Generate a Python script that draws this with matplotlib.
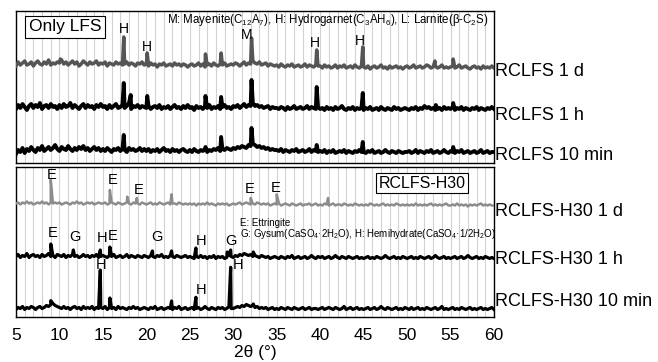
import numpy as np
import matplotlib
matplotlib.use("Agg")
import matplotlib.pyplot as plt

plt.rcParams['font.family'] = ['Liberation Sans', 'DejaVu Sans']
plt.rcParams['mathtext.default'] = 'regular'

# ---------------- data ----------------
two_theta = np.arange(5.0, 60.001, 0.25)   # sampling grid of the baseline values

# Only LFS (RCLFS)
lfs_1d_base = [10, 14, 11, 13, 15, 11, 12, 14, 10, 13, 15, 12, 11, 14, 12, 16, 11, 13, 12, 14,
               13, 16, 12, 14, 11, 13, 15, 12, 14, 10, 12, 15, 13, 11, 14, 12, 13, 15, 11, 13,
               12, 14, 10, 13, 12, 11, 14, 12, 13, 11, 12, 14, 11, 13, 12, 10, 13, 12, 14, 11,
               12, 10, 13, 11, 12, 9, 12, 11, 13, 10, 11, 12, 10, 13, 11, 12, 10, 12, 11, 9,
               11, 12, 10, 11, 13, 10, 12, 9, 11, 12, 10, 13, 11, 10, 12, 11, 13, 10, 11, 12,
               11, 13, 12, 10, 12, 14, 11, 13, 12, 15, 13, 12, 14, 11, 12, 13, 10, 12, 11, 10,
               11, 9, 12, 10, 9, 11, 10, 12, 9, 10, 11, 9, 10, 12, 9, 11, 10, 9, 11, 10,
               10, 8, 11, 9, 10, 8, 9, 11, 8, 10, 9, 11, 8, 9, 10, 8, 11, 9, 8, 10,
               9, 8, 10, 7, 9, 10, 8, 9, 11, 8, 9, 7, 10, 8, 9, 10, 8, 9, 7, 9,
               10, 8, 9, 11, 8, 9, 10, 8, 9, 11, 10, 8, 9, 10, 8, 9, 11, 8, 9, 8,
               9, 10, 8, 9, 11, 8, 9, 10, 8, 7, 9, 10, 8, 9, 7, 10, 8, 9, 8, 10,
               8]
lfs_1d_peak_x = [10.1, 17.4, 20.1, 26.8, 28.6, 32.1, 39.6, 44.9, 53.2, 55.3]
lfs_1d_peak_y = [17, 39, 23, 22, 23, 38, 26, 29, 15, 17]

lfs_1h_base = [9, 13, 10, 14, 11, 8, 12, 14, 10, 13, 11, 15, 9, 12, 13, 10, 14, 11, 12, 9,
               13, 10, 14, 11, 12, 15, 10, 13, 11, 9, 12, 14, 10, 13, 11, 12, 9, 13, 11, 14,
               11, 12, 9, 13, 10, 12, 14, 10, 11, 13, 10, 12, 15, 9, 12, 11, 13, 10, 12, 11,
               10, 12, 9, 11, 12, 10, 13, 9, 11, 10, 12, 9, 11, 13, 10, 11, 9, 12, 10, 13,
               10, 11, 8, 12, 10, 11, 9, 12, 10, 13, 9, 11, 10, 12, 9, 11, 13, 10, 11, 9,
               12, 11, 13, 10, 12, 14, 11, 13, 12, 15, 12, 13, 11, 12, 10, 11, 12, 9, 11, 10,
               10, 9, 11, 10, 8, 11, 9, 10, 12, 9, 10, 11, 9, 10, 12, 9, 11, 10, 9, 11,
               9, 10, 8, 11, 9, 10, 8, 11, 9, 10, 12, 9, 8, 10, 9, 11, 8, 10, 9, 10,
               8, 10, 9, 11, 8, 9, 10, 8, 11, 9, 8, 10, 9, 8, 11, 9, 10, 8, 9, 10,
               9, 8, 10, 9, 11, 8, 10, 9, 12, 10, 11, 9, 10, 8, 9, 10, 8, 11, 9, 10,
               9, 11, 8, 10, 9, 11, 8, 10, 9, 8, 10, 9, 11, 8, 10, 9, 8, 10, 9, 11,
               9]
lfs_1h_peak_x = [17.4, 18.2, 20.1, 26.8, 28.6, 32.1, 39.6, 44.9, 53.3, 55.3]
lfs_1h_peak_y = [35, 23, 22, 22, 21, 38, 31, 25, 13, 15]

lfs_10m_base = [8, 12, 10, 14, 9, 13, 11, 15, 12, 10, 14, 12, 16, 11, 13, 15, 12, 14, 17, 13,
                11, 15, 13, 12, 16, 13, 11, 14, 12, 15, 13, 16, 12, 14, 11, 13, 15, 12, 14, 11,
                13, 11, 14, 12, 10, 13, 12, 14, 11, 13, 12, 10, 14, 12, 13, 11, 12, 14, 11, 13,
                11, 13, 10, 12, 11, 13, 10, 12, 14, 11, 12, 10, 13, 11, 12, 10, 12, 13, 11, 10,
                12, 10, 13, 11, 10, 12, 11, 13, 10, 12, 11, 13, 12, 14, 11, 13, 12, 14, 13, 12,
                14, 13, 15, 14, 16, 15, 14, 17, 16, 18, 17, 15, 16, 14, 15, 13, 14, 12, 13, 12,
                12, 11, 13, 10, 12, 11, 10, 12, 11, 13, 10, 11, 12, 10, 11, 13, 10, 12, 11, 10,
                11, 10, 12, 9, 11, 10, 12, 9, 10, 11, 10, 12, 9, 11, 10, 9, 11, 10, 12, 10,
                10, 9, 11, 10, 12, 9, 10, 11, 9, 10, 12, 10, 9, 11, 10, 9, 11, 10, 9, 10,
                10, 11, 9, 10, 12, 9, 11, 10, 9, 11, 10, 12, 9, 10, 11, 9, 10, 12, 10, 9,
                11, 10, 9, 11, 10, 12, 9, 10, 11, 9, 10, 11, 9, 10, 12, 9, 10, 11, 9, 10,
                10]
lfs_10m_peak_x = [17.4, 26.8, 28.6, 32.1, 39.6, 44.9, 55.3]
lfs_10m_peak_y = [27, 15, 25, 34, 17, 20, 15]

# RCLFS-H30
h30_1d_base = [8, 9, 7, 9, 8, 10, 8, 9, 7, 8, 9, 8, 10, 8, 9, 7, 9, 8, 9, 8,
               9, 7, 8, 9, 8, 7, 9, 8, 10, 8, 9, 7, 8, 9, 8, 9, 7, 8, 9, 8,
               8, 9, 7, 8, 9, 8, 7, 9, 8, 7, 8, 9, 8, 7, 9, 8, 8, 7, 9, 8,
               7, 8, 9, 7, 8, 7, 9, 8, 7, 8, 9, 7, 8, 8, 7, 9, 8, 7, 8, 7,
               8, 7, 8, 6, 8, 7, 8, 7, 9, 7, 8, 7, 6, 8, 7, 8, 7, 8, 6, 7,
               8, 7, 8, 9, 7, 8, 9, 8, 7, 8, 7, 9, 8, 7, 8, 7, 8, 6, 7, 8,
               7, 8, 6, 7, 8, 7, 6, 8, 7, 6, 7, 8, 6, 7, 7, 8, 6, 7, 8, 6,
               7, 6, 8, 7, 6, 7, 8, 6, 7, 7, 6, 8, 7, 6, 7, 6, 8, 7, 6, 7,
               6, 7, 6, 8, 7, 6, 7, 6, 7, 8, 6, 7, 6, 7, 6, 8, 7, 6, 7, 6,
               7, 6, 7, 6, 8, 6, 7, 6, 7, 6, 7, 8, 6, 7, 6, 7, 6, 7, 8, 6,
               6, 7, 6, 8, 6, 7, 6, 7, 5, 7, 6, 7, 6, 7, 8, 6, 7, 6, 7, 6,
               6]
h30_1d_peak_x = [9.0, 15.8, 17.8, 18.9, 22.9, 32.0, 35.0, 40.9]
h30_1d_peak_y = [31.5, 21.5, 14.8, 13.5, 17.2, 13.5, 17.0, 13.5]

h30_1h_base = [10, 12, 9, 11, 10, 13, 9, 11, 12, 10, 11, 9, 12, 10, 11, 13, 10, 11, 9, 12,
               11, 10, 12, 9, 11, 10, 12, 10, 11, 9, 10, 12, 10, 11, 9, 11, 10, 12, 9, 10,
               11, 10, 9, 11, 10, 12, 9, 10, 11, 9, 10, 12, 9, 11, 10, 9, 11, 10, 9, 11,
               10, 9, 11, 10, 9, 11, 10, 12, 9, 10, 9, 11, 10, 9, 11, 10, 9, 10, 11, 9,
               10, 9, 8, 10, 9, 11, 9, 10, 8, 10, 9, 11, 8, 10, 9, 10, 8, 9, 11, 10,
               9, 11, 10, 12, 11, 13, 12, 11, 12, 10, 11, 10, 9, 11, 10, 9, 10, 8, 9, 10,
               9, 8, 10, 9, 8, 10, 9, 11, 8, 9, 10, 8, 9, 10, 8, 9, 11, 9, 8, 10,
               9, 10, 8, 9, 10, 8, 9, 11, 9, 8, 10, 9, 8, 10, 9, 8, 9, 10, 8, 9,
               8, 9, 10, 8, 9, 8, 10, 9, 8, 9, 11, 9, 8, 9, 10, 8, 9, 8, 10, 9,
               8, 9, 10, 8, 9, 8, 10, 9, 8, 9, 10, 8, 9, 11, 9, 8, 9, 10, 8, 9,
               8, 9, 10, 8, 9, 10, 8, 9, 11, 9, 8, 9, 10, 8, 9, 8, 10, 9, 8, 9,
               8]
h30_1h_peak_x = [9.0, 11.6, 14.7, 15.8, 20.7, 22.9, 25.7, 29.3, 29.7, 32.3]
h30_1h_peak_y = [22.5, 16.5, 16.5, 19.5, 15.5, 15.5, 18.5, 14.5, 16.5, 14.5]

h30_10m_base = [6, 8, 7, 9, 6, 8, 7, 9, 8, 6, 8, 9, 7, 8, 10, 9, 11, 12, 10, 9,
                8, 7, 9, 7, 8, 6, 8, 9, 7, 8, 6, 9, 7, 8, 7, 9, 6, 8, 7, 8,
                7, 9, 6, 8, 7, 8, 6, 9, 7, 8, 7, 6, 8, 7, 9, 7, 8, 6, 7, 8,
                7, 6, 8, 7, 9, 6, 7, 8, 6, 7, 8, 7, 6, 8, 7, 9, 6, 7, 8, 6,
                7, 8, 6, 7, 8, 6, 7, 9, 7, 6, 8, 7, 6, 8, 7, 8, 6, 7, 9, 7,
                7, 8, 9, 8, 10, 9, 11, 10, 9, 10, 8, 9, 7, 8, 7, 8, 6, 7, 8, 6,
                7, 6, 8, 7, 6, 8, 7, 6, 8, 7, 6, 7, 8, 6, 7, 8, 6, 7, 7, 6,
                7, 8, 6, 7, 8, 7, 6, 8, 7, 6, 7, 9, 6, 7, 8, 6, 7, 8, 6, 7,
                6, 7, 8, 6, 7, 8, 6, 7, 9, 7, 6, 8, 7, 6, 7, 8, 6, 7, 6, 8,
                7, 6, 8, 6, 7, 8, 6, 7, 6, 8, 7, 6, 7, 8, 6, 7, 9, 6, 7, 6,
                7, 8, 6, 7, 6, 8, 7, 6, 7, 8, 6, 7, 6, 7, 8, 6, 7, 6, 7, 8,
                6]
h30_10m_peak_x = [9.0, 14.7, 15.8, 22.9, 25.7, 29.7, 32.3]
h30_10m_peak_y = [14.8, 45.5, 17.5, 14.5, 18.2, 48.2, 11.5]

x_ticks = [5, 10, 15, 20, 25, 30, 35, 40, 45, 50, 55, 60]

# ---------------- helpers ----------------
def merge(base, px, py):
    assert len(base) == len(two_theta), (len(base), len(two_theta))
    x = np.concatenate([two_theta, np.asarray(px, float)])
    y = np.concatenate([np.asarray(base, float), np.asarray(py, float)])
    o = np.argsort(x, kind="stable")
    return x[o], y[o]

W, H = 658, 362
fig = plt.figure(figsize=(W / 100, H / 100), dpi=100)

def px_axes(l, t, r, b):
    return fig.add_axes([l / W, 1 - b / H, (r - l) / W, (b - t) / H])

ax1 = px_axes(16, 11, 494, 163)
ax2 = px_axes(16, 167, 494, 316.5)

top_series = [
    (lfs_1d_base, lfs_1d_peak_x, lfs_1d_peak_y, 87, '#555555', 2.5),
    (lfs_1h_base, lfs_1h_peak_x, lfs_1h_peak_y, 45, '#000000', 2.8),
    (lfs_10m_base, lfs_10m_peak_x, lfs_10m_peak_y, 1, '#000000', 2.8),
]
bot_series = [
    (h30_1d_base, h30_1d_peak_x, h30_1d_peak_y, 105, '#8c8c8c', 1.8),
    (h30_1h_base, h30_1h_peak_x, h30_1h_peak_y, 50, '#000000', 2.3),
    (h30_10m_base, h30_10m_peak_x, h30_10m_peak_y, 1, '#000000', 2.3),
]

for ax, series, ymax in [(ax1, top_series, 152), (ax2, bot_series, 149.5)]:
    for base, pxs, pys, off, col, lw in series:
        x, y = merge(base, pxs, pys)
        ax.plot(x, y + off, color=col, lw=lw, zorder=3)
    ax.set_xlim(5, 60)
    ax.set_ylim(0, ymax)
    ax.set_yticks([])
    ax.set_xticks(x_ticks)
    ax.set_xticks(np.arange(5, 61, 1), minor=True)
    ax.grid(True, which='both', axis='x', color='#d2d2d2', lw=0.8, zorder=0)
    ax.tick_params(axis='x', which='both', length=0)
    for s in ax.spines.values():
        s.set_linewidth(1.0)
        s.set_color('black')

ax1.set_xticklabels([])
ax2.set_xticklabels([str(t) for t in x_ticks], fontsize=12.5)
ax2.tick_params(axis='x', pad=8.5)
ax2.set_xlabel('2θ (°)', fontsize=12.5, labelpad=1)

# -------- annotations (pixel positions) --------
def ftext(xp, yp, s, **kw):
    fig.text(xp / W, 1 - yp / H, s, **kw)

right_labels = [(71, 'RCLFS 1 d'), (115, 'RCLFS 1 h'), (156, 'RCLFS 10 min'),
                (211, 'RCLFS-H30 1 d'), (259, 'RCLFS-H30 1 h'), (301, 'RCLFS-H30 10 min')]
for yp, s in right_labels:
    ftext(495, yp, s, fontsize=13, ha='left', va='center')

box1 = dict(boxstyle='square,pad=0.2', fc='white', ec='black', lw=0.8)
box2 = dict(boxstyle='square,pad=0.15', fc='white', ec='black', lw=0.8)
ftext(65, 27, 'Only LFS', fontsize=12.5, ha='center', va='center', bbox=box1)
ftext(422, 183, 'RCLFS-H30', fontsize=11.5, ha='center', va='center', bbox=box2)

ftext(489, 20, r'M: Mayenite(C$_{12}$A$_7$), H: Hydrogarnet(C$_3$AH$_6$), L: Larnite(β-C$_2$S)',
      fontsize=8.3, ha='right', va='center')
ftext(240, 223, 'E: Ettringite', fontsize=7, ha='left', va='center')
ftext(240, 234, r'G: Gysum(CaSO$_4$·2H$_2$O), H: Hemihydrate(CaSO$_4$·1/2H$_2$O)',
      fontsize=7, ha='left', va='center')

top_marks = [('H', 17.4, 29), ('H', 20.1, 47), ('M', 31.5, 35), ('H', 39.4, 43), ('H', 44.6, 41)]
for s, x, yp in top_marks:
    ax1.text(x, 163 - yp, s, fontsize=10, ha='center', va='center', zorder=4)

bot_marks = [('E', 9.1, 175), ('E', 16.1, 180), ('E', 19.1, 190), ('E', 31.9, 189), ('E', 34.9, 188),
             ('E', 9.2, 233), ('G', 11.8, 237), ('H', 14.9, 238), ('E', 16.1, 236), ('G', 21.2, 237),
             ('H', 26.3, 241), ('G', 29.7, 241),
             ('H', 14.8, 265), ('H', 30.6, 265), ('H', 26.3, 290)]
for s, x, yp in bot_marks:
    ax2.text(x, 316.5 - yp, s, fontsize=10.5, ha='center', va='center', zorder=4)

fig.savefig('out.png', dpi=100)
